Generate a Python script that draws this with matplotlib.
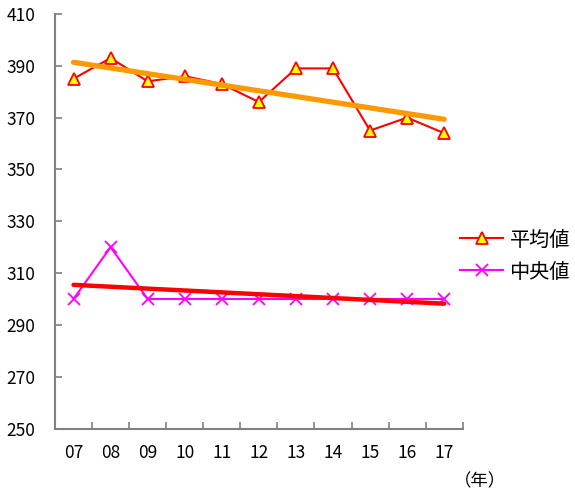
import numpy as np
import matplotlib
matplotlib.use("Agg")
import matplotlib.pyplot as plt
from matplotlib.lines import Line2D

plt.rcParams['font.family'] = ['Noto Sans CJK JP', 'DejaVu Sans']

# ── data ─────────────────────────────────────────
years = ["07", "08", "09", "10", "11", "12", "13", "14", "15", "16", "17"]
mean_vals = [385, 393, 384, 386, 383, 376, 389, 389, 365, 370, 364]
median_vals = [300, 320, 300, 300, 300, 300, 300, 300, 300, 300, 300]
y_ticks = [250, 270, 290, 310, 330, 350, 370, 390, 410]

x = np.arange(len(years))

# linear trend for each series
mean_fit = np.polyval(np.polyfit(x, mean_vals, 1), x)
median_fit = np.polyval(np.polyfit(x, median_vals, 1), x)

fig = plt.figure(figsize=(5.75, 4.91), dpi=100)
ax = fig.add_axes([55 / 575, 1 - 428.5 / 491, (462.7 - 55) / 575, (428.5 - 14) / 491])

ax.plot(x, mean_vals, color="#FF0000", lw=1.5, marker="^", ms=9,
        mfc="#FFFF00", mec="#FF0000", mew=1.3, zorder=3)
ax.plot(x, mean_fit, color="#FF9900", lw=3.8, solid_capstyle="round", zorder=4)

ax.plot(x, median_vals, color="#FF00FF", lw=1.5, marker="x", ms=8,
        mew=1.3, zorder=3)
ax.plot(x, median_fit, color="#FF0000", lw=3.2, solid_capstyle="round", zorder=4)

ax.set_xlim(-0.5, len(years) - 0.5)
ax.set_ylim(250, 410)
ax.set_yticks(y_ticks)
ax.set_xticks(x)
ax.set_xticklabels(years)
ax.set_xticks(np.arange(len(years)) + 0.5, minor=True)

for side in ("top", "right"):
    ax.spines[side].set_visible(False)
for side in ("left", "bottom"):
    ax.spines[side].set_color("#808080")
    ax.spines[side].set_linewidth(1.5)

ax.tick_params(axis="y", direction="in", length=5, color="#808080",
               width=1.2, labelsize=12.5, pad=14)
ax.tick_params(axis="x", which="major", length=0, labelsize=12.5, pad=11)
ax.tick_params(axis="x", which="minor", direction="in", length=5,
               color="#808080", width=1.2)

handles = [
    Line2D([], [], color="#FF0000", lw=1.5, marker="^", ms=9,
           mfc="#FFFF00", mec="#FF0000", mew=1.3),
    Line2D([], [], color="#FF00FF", lw=1.5, marker="x", ms=8, mew=1.3),
]
fig.legend(handles, ["平均値", "中央値"], loc="center left",
           bbox_to_anchor=(442 / 575, 1 - 256 / 491), frameon=False,
           fontsize=14.5, handlelength=2.15, handletextpad=0.3,
           labelspacing=0.55, borderpad=0.4)

fig.text(480 / 575, 1 - 481 / 491, "（年）", fontsize=12.5,
         ha="center", va="center")

fig.savefig("out.png", dpi=100)
